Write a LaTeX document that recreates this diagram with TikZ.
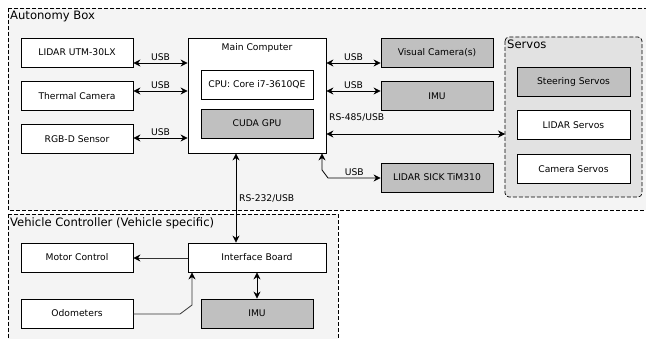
\documentclass[tikz,border=0pt]{standalone}
\usepackage{fontspec}
\setmainfont{DejaVu Sans}
\usetikzlibrary{arrows.meta,calc}
\definecolor{bgbox}{HTML}{F4F4F4}
\definecolor{servobg}{HTML}{E2E2E2}
\definecolor{grayfill}{HTML}{C0C0C0}
\tikzset{
  every node/.style={font=\fontsize{9.2}{11}\selectfont},
  blk/.style={draw=black, line width=0.8pt, fill=white, minimum width=112pt, minimum height=29pt, inner sep=0pt},
  gblk/.style={blk, fill=grayfill},
  group/.style={draw=black, dash pattern=on 4pt off 2pt, line width=0.7pt, fill=bgbox},
  title/.style={anchor=north west, inner sep=1pt, font=\fontsize{11.6}{13}\selectfont},
  lbl/.style={inner sep=1pt},
  con/.style={line width=0.8pt, {Stealth[length=7pt,width=7pt]}-{Stealth[length=7pt,width=7pt]}},
  one/.style={line width=0.8pt, draw=black!80, -{Stealth[length=7pt,width=7pt,fill=black,color=black]}},
}
\begin{document}
\begin{tikzpicture}[x=1pt,y=-1pt]
\useasboundingbox (0,0) rectangle (646,339);
% groups
\draw[group] (8,8) rectangle (660,210);
\draw[group] (8,214) rectangle (338,360);
\node[title] (abox) at (9,10) {Autonomy Box};
\node[title] (vbox) at (9,216) {Vehicle Controller (Vehicle specific)};
\draw[group, rounded corners=4pt, fill=servobg] (505,37) rectangle (642,197);
\node[title] (sbox) at (506,39) {Servos};
% left sensors
\node[blk] (lidar) at (77,52.5) {LIDAR UTM-30LX};
\node[blk] (thermal) at (77,96) {Thermal Camera};
\node[blk] (rgbd) at (77,139) {RGB-D Sensor};
% main computer
\node[blk, minimum width=138pt, minimum height=115pt] (main) at (257,95.5) {};
\node[lbl] (maintitle) at (257,48) {Main Computer};
\node[blk] (cpu) at (257,84.5) {CPU: Core i7-3610QE};
\node[gblk] (gpu) at (257,123.5) {CUDA GPU};
% right devices
\node[gblk] (vis) at (437,52.5) {Visual Camera(s)};
\node[gblk] (imu) at (437,96) {IMU};
\node[gblk] (sick) at (437,177.5) {LIDAR SICK TiM310};
% servos
\node[gblk, minimum width=113pt] (steer) at (573.5,81.5) {Steering Servos};
\node[blk, minimum width=113pt] (lservo) at (573.5,125) {LIDAR Servos};
\node[blk, minimum width=113pt] (cservo) at (573.5,169) {Camera Servos};
% vehicle controller
\node[blk] (motor) at (77,257.5) {Motor Control};
\node[blk, minimum width=138pt] (iface) at (257,257.5) {Interface Board};
\node[blk] (odo) at (77,313.5) {Odometers};
\node[gblk] (imu2) at (257,313.5) {IMU};
% connectors left
\draw[con] (lidar.east |- 0,63) -- node[lbl, above=1pt] {USB} (main.west |- 0,63);
\draw[con] (thermal.east |- 0,91) -- node[lbl, above=1pt] {USB} (main.west |- 0,91);
\draw[con] (rgbd.east |- 0,138) -- node[lbl, above=1pt] {USB} (main.west |- 0,138);
% connectors right
\draw[con] (main.east |- 0,63) -- node[lbl, above=1pt] {USB} (vis.west |- 0,63);
\draw[con] (main.east |- 0,91) -- node[lbl, above=1pt] {USB} (imu.west |- 0,91);
\draw[con] (main.east |- 0,134) -- (505,134);
\node[lbl, anchor=west] (rs485) at (328,118) {RS-485/USB};
\coordinate (sk1) at (322,170);
\coordinate (sk2) at (328,178);
\draw[con] (main.south -| sk1) -- (sk1) -- (sk2) -- node[lbl, above=1pt] {USB} (sick.west |- sk2);
% RS-232
\draw[con] (main.south -| 236,0) -- (iface.north -| 236,0);
\node[lbl, anchor=west] (rs232) at (238,199) {RS-232/USB};
% vehicle connectors
\draw[one] (iface.west |- 0,258) -- (motor.east |- 0,258);
\coordinate (o1) at (180,314);
\coordinate (o2) at (192,305);
\draw[one] (odo.east |- o1) -- (o1) -- (o2) -- (iface.south -| o2);
\draw[con] (iface.south) -- (imu2.north);
\end{tikzpicture}
\end{document}
